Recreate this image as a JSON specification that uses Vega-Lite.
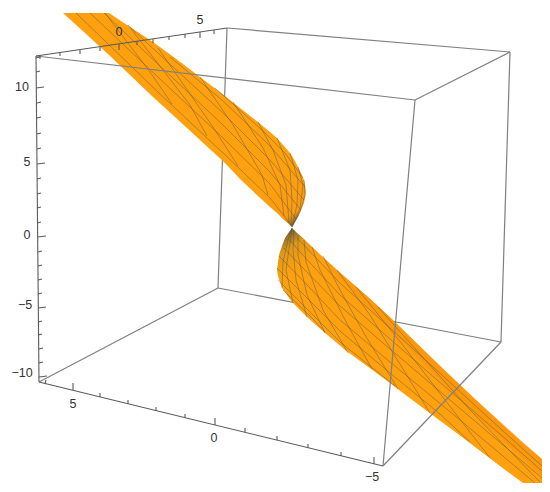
{
"$schema":"https://vega.github.io/schema/vega-lite/v6.json",
"width":550,"height":492,"padding":0,"autosize":{"type":"none"},
"background":"white","config":{"view":{"stroke":null}},
"datasets":{
"edges":[
{"x":227,"y":28,"x2":218,"y2":288,"e":"back"},
{"x":218,"y":288,"x2":501,"y2":342,"e":"back"},
{"x":218,"y":288,"x2":39,"y2":382,"e":"back"},
{"x":227,"y":28,"x2":510,"y2":52,"e":"back"},
{"x":510,"y":52,"x2":501,"y2":342,"e":"back"},
{"x":415,"y":100,"x2":510,"y2":52,"e":"back"},
{"x":36,"y":56,"x2":415,"y2":100,"e":"front"},
{"x":415,"y":100,"x2":383,"y2":466,"e":"front"},
{"x":501,"y":342,"x2":383,"y2":466,"e":"front"}
],
"axes":[
{"x":36,"y":56,"x2":39,"y2":382},{"x":36,"y":56,"x2":227,"y2":28},{"x":39,"y":382,"x2":383,"y2":466},
{"x":36,"y":58,"x2":40,"y2":57},{"x":36,"y":72,"x2":40,"y2":71},{"x":36,"y":88,"x2":44,"y2":87},{"x":37,"y":103,"x2":41,"y2":102},{"x":37,"y":118,"x2":41,"y2":117},{"x":37,"y":134,"x2":41,"y2":133},{"x":37,"y":149,"x2":41,"y2":148},{"x":37,"y":164,"x2":45,"y2":163},{"x":37,"y":179,"x2":41,"y2":178},{"x":37,"y":194,"x2":41,"y2":193},{"x":37,"y":208,"x2":41,"y2":207},{"x":37,"y":223,"x2":41,"y2":222},{"x":38,"y":237,"x2":46,"y2":236},{"x":38,"y":252,"x2":42,"y2":251},{"x":38,"y":266,"x2":42,"y2":265},{"x":38,"y":280,"x2":42,"y2":279},{"x":38,"y":294,"x2":42,"y2":293},{"x":38,"y":308,"x2":46,"y2":307},{"x":38,"y":322,"x2":42,"y2":321},{"x":38,"y":335,"x2":42,"y2":334},{"x":39,"y":349,"x2":43,"y2":348},{"x":39,"y":363,"x2":43,"y2":362},{"x":39,"y":377,"x2":47,"y2":376},
{"x":40,"y":55,"x2":40,"y2":59},{"x":60,"y":52,"x2":60,"y2":56},{"x":80,"y":50,"x2":80,"y2":54},{"x":100,"y":47,"x2":100,"y2":51},{"x":119,"y":44,"x2":119,"y2":50},{"x":137,"y":41,"x2":137,"y2":45},{"x":153,"y":39,"x2":153,"y2":43},{"x":169,"y":36,"x2":169,"y2":40},{"x":185,"y":34,"x2":185,"y2":38},{"x":200,"y":32,"x2":200,"y2":38},{"x":214,"y":30,"x2":214,"y2":34},
{"x":45,"y":384,"x2":46,"y2":380},{"x":73,"y":390,"x2":73,"y2":383},{"x":100,"y":397,"x2":100,"y2":393},{"x":128,"y":404,"x2":128,"y2":400},{"x":156,"y":411,"x2":156,"y2":407},{"x":185,"y":418,"x2":185,"y2":414},{"x":215,"y":425,"x2":215,"y2":418},{"x":245,"y":432,"x2":245,"y2":428},{"x":277,"y":440,"x2":277,"y2":436},{"x":308,"y":448,"x2":308,"y2":444},{"x":341,"y":456,"x2":341,"y2":452},{"x":374,"y":464,"x2":374,"y2":457}
],
"labels":[
{"x":22,"y":87,"t":"10"},{"x":27,"y":162,"t":"5"},{"x":27,"y":235,"t":"0"},{"x":25,"y":305,"t":"−5"},{"x":22,"y":373,"t":"−10"},
{"x":119,"y":32,"t":"0"},{"x":200,"y":20,"t":"5"},{"x":73,"y":404,"t":"5"},{"x":214,"y":438,"t":"0"},{"x":372,"y":477,"t":"−5"}
],
"upper":[
{"x":63,"y":13,"y2":13},{"x":85,"y":13,"y2":33},{"x":109,"y":13,"y2":55},{"x":130,"y":27,"y2":75},{"x":153,"y":42,"y2":97},{"x":175,"y":58,"y2":117},{"x":200,"y":77,"y2":140},{"x":225,"y":96,"y2":163},{"x":240,"y":108,"y2":179},{"x":258,"y":122,"y2":196},{"x":270,"y":132,"y2":207},{"x":277,"y":138,"y2":213},{"x":284,"y":146,"y2":220},{"x":290,"y":153,"y2":225},{"x":292,"y":156,"y2":227},{"x":295,"y":161,"y2":222},{"x":298,"y":167,"y2":217},{"x":301,"y":173,"y2":210},{"x":304,"y":180,"y2":203},{"x":305,"y":185,"y2":198},{"x":306,"y":192,"y2":192}
],
"lower":[
{"x":277,"y":270,"y2":270},{"x":278,"y":262,"y2":276},{"x":279,"y":255,"y2":279},{"x":282,"y":246,"y2":288},{"x":285,"y":238,"y2":292},{"x":289,"y":232,"y2":298},{"x":292,"y":228,"y2":302},{"x":296,"y":232,"y2":306},{"x":303,"y":238,"y2":313},{"x":307,"y":242,"y2":317},{"x":325,"y":259,"y2":333},{"x":337,"y":270,"y2":343},{"x":345,"y":277,"y2":350},{"x":367,"y":296,"y2":366},{"x":390,"y":317,"y2":383},{"x":395,"y":322,"y2":387},{"x":435,"y":361,"y2":417},{"x":458,"y":383,"y2":434},{"x":475,"y":399,"y2":447},{"x":500,"y":422,"y2":466},{"x":523,"y":443,"y2":483},{"x":542,"y":459,"y2":483}
],
"strips":[
{"x":325,"y":259,"y2":264,"p":"a"},{"x":367,"y":296,"y2":306,"p":"a"},{"x":395,"y":322,"y2":334,"p":"a"},{"x":435,"y":361,"y2":375,"p":"a"},{"x":475,"y":399,"y2":415,"p":"a"},{"x":542,"y":459,"y2":476,"p":"a"}
],
"mesh":[
{"s":"T0","x":76,"y":13},{"s":"T0","x":160,"y":94},{"s":"T0","x":222,"y":152},{"s":"T0","x":270,"y":198},{"s":"T0","x":292,"y":226},
{"s":"T1","x":90,"y":13},{"s":"T1","x":160,"y":79},{"s":"T1","x":222,"y":137},{"s":"T1","x":270,"y":184},{"s":"T1","x":296,"y":219},
{"s":"T2","x":104,"y":13},{"s":"T2","x":160,"y":66},{"s":"T2","x":222,"y":124},{"s":"T2","x":270,"y":172},{"s":"T2","x":301,"y":210},
{"s":"T3","x":130,"y":27},{"s":"T3","x":160,"y":55},{"s":"T3","x":222,"y":112},{"s":"T3","x":270,"y":160},{"s":"T3","x":304,"y":200},
{"s":"T4","x":170,"y":57},{"s":"T4","x":222,"y":100},{"s":"T4","x":270,"y":146},{"s":"T4","x":305,"y":187},
{"s":"T5","x":215,"y":88},{"s":"T5","x":262,"y":130},{"s":"T5","x":285,"y":153},{"s":"T5","x":303,"y":178},
{"s":"S0","x":105,"y":13},{"s":"S0","x":150,"y":72},{"s":"S0","x":172,"y":104},
{"s":"S1","x":128,"y":25},{"s":"S1","x":190,"y":105},{"s":"S1","x":207,"y":136},
{"s":"S2","x":158,"y":48},{"s":"S2","x":213,"y":127},{"s":"S2","x":238,"y":166},
{"s":"S3","x":200,"y":77},{"s":"S3","x":233,"y":125},{"s":"S3","x":262,"y":175},{"s":"S3","x":268,"y":195},
{"s":"S4","x":233,"y":102},{"s":"S4","x":263,"y":148},{"s":"S4","x":280,"y":185},{"s":"S4","x":284,"y":216},
{"s":"S5","x":258,"y":122},{"s":"S5","x":273,"y":150},{"s":"S5","x":286,"y":185},{"s":"S5","x":289,"y":222},
{"s":"S6","x":277,"y":138},{"s":"S6","x":290,"y":170},{"s":"S6","x":292,"y":200},{"s":"S6","x":291,"y":226},
{"s":"S7","x":290,"y":153},{"s":"S7","x":298,"y":180},{"s":"S7","x":297,"y":205},{"s":"S7","x":292,"y":227},
{"s":"S8","x":298,"y":167},{"s":"S8","x":303,"y":185},{"s":"S8","x":300,"y":208},{"s":"S8","x":292,"y":227},
{"s":"S9","x":304,"y":180},{"s":"S9","x":305,"y":195},{"s":"S9","x":300,"y":212},{"s":"S9","x":292,"y":227},
{"s":"A0","x":297,"y":238},{"s":"A0","x":340,"y":283},{"s":"A0","x":390,"y":328},{"s":"A0","x":443,"y":376},{"s":"A0","x":503,"y":431},{"s":"A0","x":542,"y":466},
{"s":"A1","x":290,"y":240},{"s":"A1","x":300,"y":252},{"s":"A1","x":340,"y":295},{"s":"A1","x":390,"y":339},{"s":"A1","x":443,"y":385},{"s":"A1","x":500,"y":434},{"s":"A1","x":542,"y":471},
{"s":"A2","x":284,"y":248},{"s":"A2","x":300,"y":265},{"s":"A2","x":340,"y":306},{"s":"A2","x":390,"y":349},{"s":"A2","x":443,"y":394},{"s":"A2","x":490,"y":434},{"s":"A2","x":542,"y":478},
{"s":"A3","x":279,"y":256},{"s":"A3","x":310,"y":288},{"s":"A3","x":340,"y":320},{"s":"A3","x":390,"y":362},{"s":"A3","x":460,"y":420},{"s":"A3","x":535,"y":483},
{"s":"A4","x":277,"y":268},{"s":"A4","x":310,"y":301},{"s":"A4","x":340,"y":331},{"s":"A4","x":390,"y":373},{"s":"A4","x":440,"y":414},{"s":"A4","x":470,"y":442},
{"s":"A5","x":278,"y":280},{"s":"A5","x":310,"y":312},{"s":"A5","x":340,"y":342},{"s":"A5","x":395,"y":386},
{"s":"A6","x":283,"y":290},{"s":"A6","x":310,"y":316},{"s":"A6","x":325,"y":332},
{"s":"B0","x":292,"y":228},{"s":"B0","x":288,"y":240},{"s":"B0","x":283,"y":262},{"s":"B0","x":282,"y":288},
{"s":"B1","x":292,"y":228},{"s":"B1","x":290,"y":242},{"s":"B1","x":286,"y":270},{"s":"B1","x":293,"y":303},
{"s":"B2","x":294,"y":230},{"s":"B2","x":293,"y":250},{"s":"B2","x":296,"y":280},{"s":"B2","x":307,"y":317},
{"s":"B3","x":298,"y":235},{"s":"B3","x":298,"y":255},{"s":"B3","x":307,"y":295},{"s":"B3","x":325,"y":333},
{"s":"B4","x":304,"y":240},{"s":"B4","x":306,"y":262},{"s":"B4","x":323,"y":310},{"s":"B4","x":348,"y":353},
{"s":"B5","x":312,"y":247},{"s":"B5","x":320,"y":270},{"s":"B5","x":345,"y":320},{"s":"B5","x":372,"y":369},
{"s":"B6","x":323,"y":256},{"s":"B6","x":340,"y":290},{"s":"B6","x":365,"y":335},{"s":"B6","x":398,"y":389},
{"s":"B7","x":337,"y":270},{"s":"B7","x":370,"y":315},{"s":"B7","x":395,"y":356},{"s":"B7","x":430,"y":413},
{"s":"B8","x":356,"y":287},{"s":"B8","x":402,"y":344},{"s":"B8","x":445,"y":400},{"s":"B8","x":490,"y":458},
{"s":"B9","x":378,"y":307},{"s":"B9","x":410,"y":343},{"s":"B9","x":470,"y":410},{"s":"B9","x":540,"y":482}
]
},
"encoding":{
"x":{"field":"x","type":"quantitative","axis":null,"scale":{"domain":[0,550],"nice":false,"zero":false}},
"y":{"field":"y","type":"quantitative","axis":null,"scale":{"domain":[492,0],"nice":false,"zero":false}}
},
"layer":[
{"data":{"name":"edges"},"transform":[{"filter":"datum.e==='back'"}],"mark":{"type":"rule","stroke":"#808080","strokeWidth":1.2},"encoding":{"x2":{"field":"x2"},"y2":{"field":"y2"}}},
{"data":{"name":"upper"},"mark":{"type":"area","color":{"gradient":"linear","x1":0.8,"y1":0.8,"x2":0.94,"y2":1,"stops":[{"offset":0,"color":"#FFA00F"},{"offset":0.8,"color":"#FB9C12"},{"offset":1,"color":"#8A6A20"}]}},"encoding":{"y2":{"field":"y2"}}},
{"data":{"name":"lower"},"mark":{"type":"area","color":{"gradient":"linear","x1":0.06,"y1":0,"x2":0.14,"y2":0.12,"stops":[{"offset":0,"color":"#7A6030"},{"offset":0.4,"color":"#E09818"},{"offset":1,"color":"#FFA00F"}]}},"encoding":{"y2":{"field":"y2"}}},
{"data":{"name":"strips"},"mark":{"type":"area","color":"#F68A08","opacity":0.35},"encoding":{"y2":{"field":"y2"},"detail":{"field":"p"}}},
{"data":{"name":"mesh"},"mark":{"type":"line","stroke":"#4E4E44","strokeWidth":0.7,"opacity":0.6},"encoding":{"detail":{"field":"s"},"order":{"value":null}}},
{"data":{"name":"edges"},"transform":[{"filter":"datum.e==='front'"}],"mark":{"type":"rule","stroke":"#808080","strokeWidth":1.2},"encoding":{"x2":{"field":"x2"},"y2":{"field":"y2"}}},
{"data":{"name":"axes"},"mark":{"type":"rule","stroke":"#5A5A5A","strokeWidth":1.1},"encoding":{"x2":{"field":"x2"},"y2":{"field":"y2"}}},
{"data":{"name":"labels"},"mark":{"type":"text","font":"Liberation Sans","fontSize":12.5,"fill":"#333333","align":"center","baseline":"middle"},"encoding":{"text":{"field":"t"}}}
]
}
